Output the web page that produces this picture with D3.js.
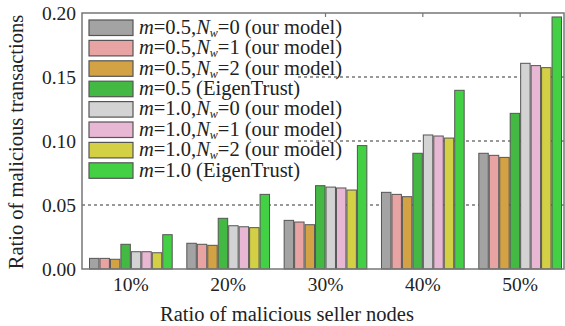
<!DOCTYPE html>
<html><head><meta charset="utf-8">
<script src="https://cdn.jsdelivr.net/npm/d3@7/dist/d3.min.js"></script>
<style>body{margin:0;background:#fff}svg{display:block}text{font-family:"Liberation Serif","Times New Roman",serif;fill:#222}</style>
</head><body><svg id="c" width="565" height="326"></svg>
<script>
const categories = ["10%","20%","30%","40%","50%"];
const seriesNames = ["m05n0","m05n1","m05n2","m05e","m10n0","m10n1","m10n2","m10e"];
const legendM = ["0.5","0.5","0.5","0.5","1.0","1.0","1.0","1.0"];
const legendNw = ["0","1","2",null,"0","1","2",null];
const colors = ["#a3a3a3","#e8a3a3","#d2a244","#43b843","#d3d3d3","#e8b7d3","#d3d045","#44d044"];
const m05n0 = [0.0083,0.0201,0.0380,0.0599,0.0904];
const m05n1 = [0.0083,0.0193,0.0367,0.0583,0.0888];
const m05n2 = [0.0076,0.0185,0.0346,0.0565,0.0872];
const m05e  = [0.0193,0.0396,0.0651,0.0904,0.1216];
const m10n0 = [0.0135,0.0338,0.0640,0.1047,0.1607];
const m10n1 = [0.0135,0.0330,0.0633,0.1039,0.1589];
const m10n2 = [0.0127,0.0323,0.0617,0.1023,0.1573];
const m10e  = [0.0268,0.0583,0.0964,0.1396,0.1969];
const seriesValues = [m05n0,m05n1,m05n2,m05e,m10n0,m10n1,m10n2,m10e];
const yTicks = [0,0.05,0.10,0.15,0.20];
const gridTicks = [0.05,0.10,0.15];

const svg = d3.select("#c");
const L=82,R=564,T=13,B=269;
const x0 = d3.scaleBand().domain(categories).range([89,562]).paddingInner(0.14).paddingOuter(0);
const x1 = d3.scaleBand().domain(seriesNames).range([0,x0.bandwidth()]).padding(0);
const y = d3.scaleLinear().domain([0,0.2]).range([B,T]);

// grid
svg.append("g").selectAll("line").data(gridTicks).join("line")
  .attr("x1",L).attr("x2",R).attr("y1",d=>y(d)).attr("y2",d=>y(d))
  .attr("stroke","#333").attr("stroke-width",1).attr("stroke-dasharray","3,3");

// bars
const g = svg.append("g");
categories.forEach((c,ci)=>{
  seriesNames.forEach((s,si)=>{
    const v = seriesValues[si][ci];
    g.append("rect").attr("x",x0(c)+x1(s)+0.5).attr("y",y(v))
     .attr("width",x1.bandwidth()-1).attr("height",B-y(v))
     .attr("fill",colors[si]).attr("stroke","#555").attr("stroke-width",1);
  });
});

// legend
const lg = svg.append("g");
lg.append("rect").attr("x",L).attr("y",T).attr("width",216).attr("height",167).attr("fill","#fff");
seriesNames.forEach((s,i)=>{
  const yy = 20 + i*20.4;
  lg.append("rect").attr("x",89).attr("y",yy).attr("width",44).attr("height",15.5)
    .attr("fill",colors[i]).attr("stroke","#555").attr("stroke-width",1.2);
  const t = lg.append("text").attr("x",139).attr("y",yy+13.8).attr("font-size",20.5);
  t.append("tspan").attr("font-style","italic").text("m");
  t.append("tspan").text("=" + legendM[i] + (legendNw[i]!==null ? "," : " (EigenTrust)"));
  if(legendNw[i]!==null){
    t.append("tspan").attr("font-style","italic").text("N");
    t.append("tspan").attr("font-style","italic").attr("font-size",12).attr("dy",3).text("w");
    t.append("tspan").attr("dy",-3).text("=" + legendNw[i] + " (our model)");
  }
});

// frame
svg.append("rect").attr("x",L).attr("y",T).attr("width",R-L).attr("height",B-T)
  .attr("fill","none").attr("stroke","#777").attr("stroke-width",1.5);

// top ticks at group centers
svg.append("g").selectAll("line").data(categories.slice(2)).join("line")
  .attr("x1",d=>x0(d)+x0.bandwidth()/2).attr("x2",d=>x0(d)+x0.bandwidth()/2)
  .attr("y1",T).attr("y2",T+4).attr("stroke","#777").attr("stroke-width",1.2);

// y axis labels
const yAxis = d3.axisLeft(y).tickValues(yTicks).tickFormat(d3.format(".2f")).tickSize(0).tickPadding(6);
const ya = svg.append("g").attr("transform",`translate(${L},0)`).call(yAxis);
ya.select(".domain").remove();
ya.attr("font-family",null);
ya.selectAll("text").attr("font-size",19.5).attr("fill","#222");

// x axis labels
const xAxis = d3.axisBottom(x0).tickSize(0).tickPadding(8);
const xa = svg.append("g").attr("transform",`translate(0,${B})`).call(xAxis);
xa.select(".domain").remove();
xa.attr("font-family",null);
xa.selectAll("text").attr("font-size",19.5).attr("fill","#222");

// titles
svg.append("text").attr("x",287).attr("y",321).attr("text-anchor","middle").attr("font-size",20.5).text("Ratio of malicious seller nodes");
svg.append("text").attr("transform","translate(23,142) rotate(-90)").attr("text-anchor","middle").attr("font-size",20.5).text("Ratio of malicious transactions");
</script></body></html>
